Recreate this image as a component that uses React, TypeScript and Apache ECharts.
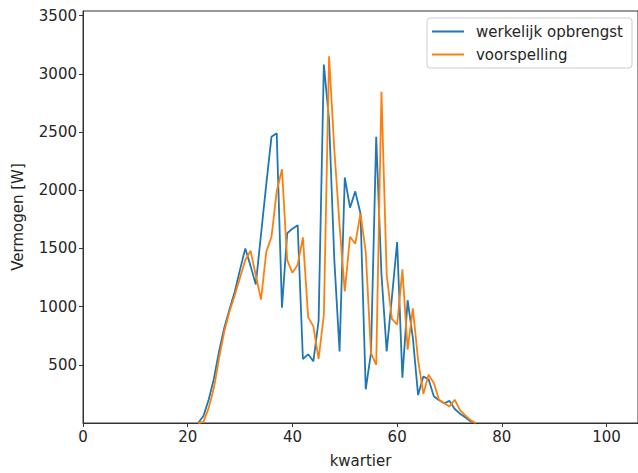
import React, { useEffect, useRef } from "react";
import * as echarts from "echarts";

const kwartier = [
  22, 23, 24, 25, 26, 27, 28, 29, 30, 31, 32, 33, 34, 35, 36, 37, 38, 39, 40, 41,
  42, 43, 44, 45, 46, 47, 48, 49, 50, 51, 52, 53, 54, 55, 56, 57, 58, 59, 60, 61,
  62, 63, 64, 65, 66, 67, 68, 69, 70, 71, 72, 73, 74, 75,
];

const werkelijk = [
  0, 60, 200, 380, 620, 820, 980, 1130, 1320, 1500, 1350, 1190, 1620, 2050, 2460, 2490, 990, 1630, 1670, 1700,
  550, 590, 530, 880, 3080, 2600, 1400, 615, 2110, 1850, 1990, 1800, 290, 600, 2460, 1280, 615, 1080, 1555, 390,
  1055, 730, 240, 400, 375, 230, 195, 170, 190, 120, 80, 50, 15, 0,
];

const voorspelling = [
  0, 10, 130, 300, 560, 790, 960, 1100, 1250, 1400, 1480, 1270, 1060, 1470, 1600, 1990, 2180, 1400, 1290, 1360,
  1595, 910, 830, 550, 930, 3150, 2350, 1700, 1130, 1600, 1540, 1800, 1470, 600, 500, 2845, 1275, 895, 845, 1320,
  630, 985, 540, 250, 414, 343, 200, 170, 142, 200, 110, 65, 25, 0,
];

const xTicks = [0, 20, 40, 60, 80, 100];
const yTicks = [500, 1000, 1500, 2000, 2500, 3000, 3500];

export default function App() {
  const ref = useRef<HTMLDivElement>(null);

  useEffect(() => {
    if (!ref.current) return;
    const chart = echarts.init(ref.current, null, { renderer: "svg" });
    const font = "DejaVu Sans";
    const textColor = "#262626";
    const fs = 15;
    chart.setOption({
      animation: false,
      backgroundColor: "#ffffff",
      textStyle: { fontFamily: font },
      grid: {
        left: 83,
        right: 0,
        top: 11,
        bottom: 50,
        show: true,
        borderColor: "#333333",
        borderWidth: 1,
        backgroundColor: "transparent",
      },
      legend: {
        orient: "vertical",
        right: 6,
        top: 18,
        icon: "rect",
        itemWidth: 32,
        itemHeight: 2,
        itemGap: 8,
        padding: [6, 9, 6, 5],
        borderColor: "#cccccc",
        borderWidth: 1,
        borderRadius: 3,
        backgroundColor: "#ffffff",
        textStyle: { fontFamily: font, fontSize: fs, color: textColor, padding: [0, 0, 0, 7] },
        data: ["werkelijk opbrengst", "voorspelling"],
      },
      xAxis: {
        type: "value",
        min: 0,
        max: 106,
        interval: 20,
        name: "kwartier",
        nameLocation: "middle",
        nameGap: 30,
        nameTextStyle: { fontFamily: font, fontSize: fs, color: textColor },
        axisLine: { show: true, lineStyle: { color: "#333333", width: 1 } },
        axisTick: {
          show: true,
          inside: false,
          length: 4,
          lineStyle: { color: "#333333" },
          customValues: xTicks,
        },
        axisLabel: {
          fontFamily: font,
          fontSize: fs,
          color: textColor,
          margin: 6,
          customValues: xTicks,
          formatter: (v: number) => String(v),
        },
        splitLine: { show: false },
      },
      yAxis: {
        type: "value",
        min: 0,
        max: 3540,
        interval: 500,
        name: "Vermogen [W]",
        nameLocation: "middle",
        nameGap: 58,
        nameTextStyle: { fontFamily: font, fontSize: fs, color: textColor },
        axisLine: { show: true, lineStyle: { color: "#333333", width: 1 } },
        axisTick: {
          show: true,
          inside: false,
          length: 4,
          lineStyle: { color: "#333333" },
          customValues: yTicks,
        },
        axisLabel: {
          fontFamily: font,
          fontSize: fs,
          color: textColor,
          margin: 6,
          customValues: yTicks,
          formatter: (v: number) => String(v),
        },
        splitLine: { show: false },
      },
      series: [
        {
          name: "werkelijk opbrengst",
          type: "line",
          data: kwartier.map((k, i) => [k, werkelijk[i]]),
          symbol: "none",
          lineStyle: { color: "#1f77b4", width: 1.8 },
          itemStyle: { color: "#1f77b4" },
          z: 2,
        },
        {
          name: "voorspelling",
          type: "line",
          data: kwartier.map((k, i) => [k, voorspelling[i]]),
          symbol: "none",
          lineStyle: { color: "#ff7f0e", width: 1.8 },
          itemStyle: { color: "#ff7f0e" },
          z: 3,
        },
      ],
    });
    return () => chart.dispose();
  }, []);

  return <div ref={ref} style={{ width: 638, height: 473, position: "absolute", left: 0, top: 0 }} />;
}
